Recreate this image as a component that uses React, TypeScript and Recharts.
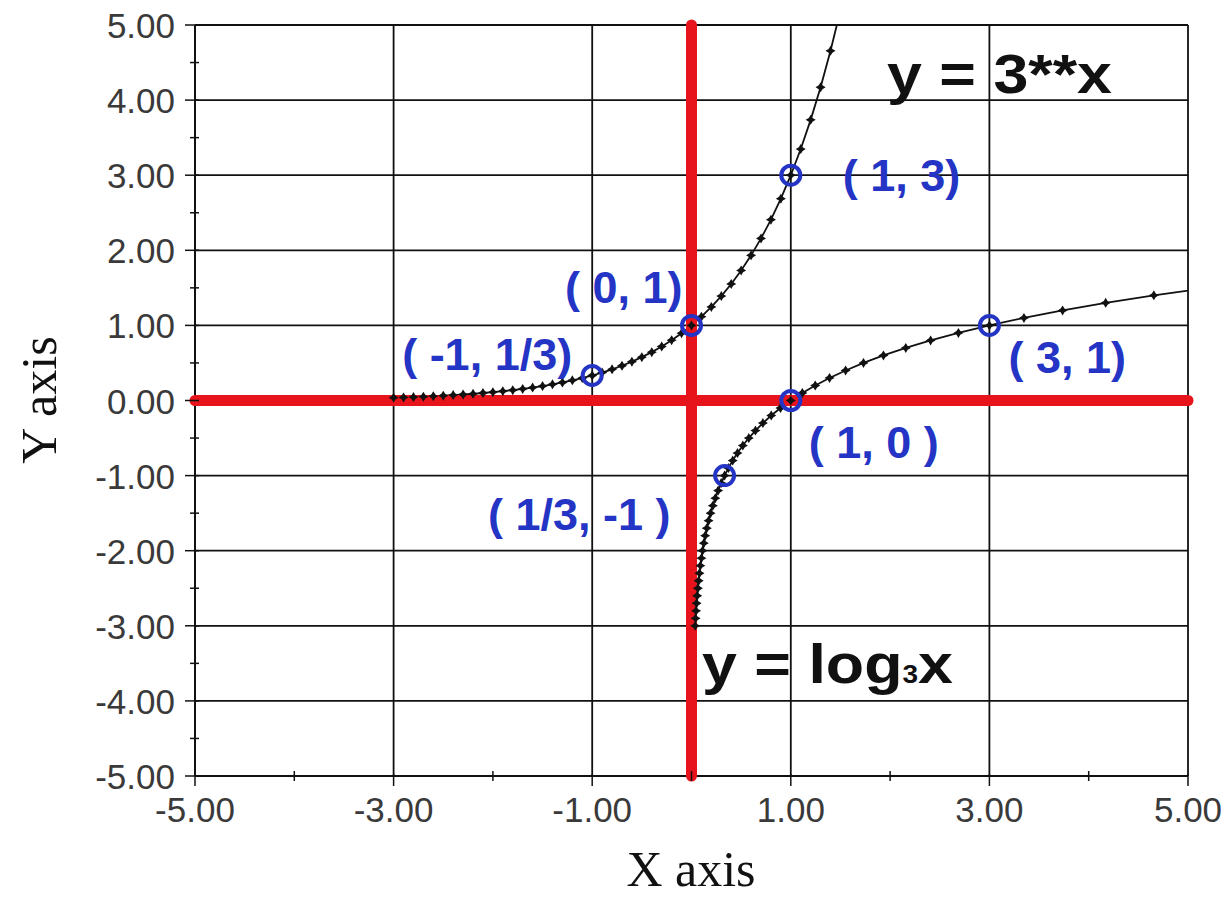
import React from "react";
import { ComposedChart, XAxis, YAxis, Line, Scatter, ReferenceLine } from "recharts";

const RED = "#e8141c";
const BLUE = "#2434c4";
const INK = "#111";

// samples of y = 3^x, x stepping by 0.1 from -3 to 1.5
const expX = [
  -3.0, -2.9, -2.8, -2.7, -2.6, -2.5, -2.4, -2.3, -2.2, -2.1,
  -2.0, -1.9, -1.8, -1.7, -1.6, -1.5, -1.4, -1.3, -1.2, -1.1,
  -1.0, -0.9, -0.8, -0.7, -0.6, -0.5, -0.4, -0.3, -0.2, -0.1,
  0.0, 0.1, 0.2, 0.3, 0.4, 0.5, 0.6, 0.7, 0.8, 0.9,
  1.0, 1.1, 1.2, 1.3, 1.4, 1.5,
];
const expY = [
  0.037, 0.041, 0.046, 0.051, 0.057, 0.064, 0.072, 0.08, 0.089, 0.1,
  0.111, 0.124, 0.138, 0.154, 0.172, 0.192, 0.215, 0.24, 0.268, 0.299,
  0.333, 0.372, 0.415, 0.463, 0.517, 0.577, 0.644, 0.719, 0.803, 0.896,
  1.0, 1.116, 1.246, 1.39, 1.552, 1.732, 1.933, 2.158, 2.408, 2.688,
  3.0, 3.348, 3.737, 4.171, 4.656, 5.196,
];

// marked points on both curves
const keyX = [-1, 0, 1, 0.333, 1, 3];
const keyY = [0.333, 1, 3, -1, 0, 1];
const keyLabels = ["( -1, 1/3)", "( 0, 1)", "( 1, 3)", "( 1/3, -1 )", "( 1, 0 )", "( 3, 1)"];

// where each label sits relative to its circle
const keyLabelPos = [
  { dx: -20, dy: -5, anchor: "end" },
  { dx: -9, dy: -22, anchor: "end" },
  { dx: 52, dy: 16, anchor: "start" },
  { dx: -54, dy: 54, anchor: "end" },
  { dx: 18, dy: 57, anchor: "start" },
  { dx: 19, dy: 48, anchor: "start" },
];

const xTicks = [-5, -4, -3, -2, -1, 0, 1, 2, 3, 4, 5];
const yTicks = [
  -5, -4.5, -4, -3.5, -3, -2.5, -2, -1.5, -1, -0.5, 0,
  0.5, 1, 1.5, 2, 2.5, 3, 3.5, 4, 4.5, 5,
];
const xGrid = [-3, -1, 1, 3, 5];
const yGrid = [-4, -3, -2, -1, 1, 2, 3, 4, 5];

const expData = expX.map((x, i) => ({ x, y: expY[i] }));
// the log curve is the same set of pairs with the axes swapped
const logData = expX.map((t, i) => ({ x: expY[i], y: t }));
const keyData = keyX.map((x, i) => ({ x, y: keyY[i], label: keyLabels[i], ...keyLabelPos[i] }));

const tickFont = { fontFamily: "'Liberation Sans', Arial, sans-serif", fontSize: 35, fill: "#3a3a3a" };

const XTick = ({ x, y, payload }: any) => {
  const v = payload.value;
  const major = Math.abs(v) % 2 === 1;
  return (
    <g>
      <line x1={x} x2={x} y1={y - (major ? 2 : 5)} y2={y + (major ? 10 : 5)} stroke={INK} strokeWidth={1.5} />
      {major && (
        <text x={x} y={y + 46} textAnchor="middle" {...tickFont}>
          {v.toFixed(2)}
        </text>
      )}
    </g>
  );
};

const YTick = ({ x, y, payload }: any) => {
  const v = payload.value;
  const major = Number.isInteger(v);
  return (
    <g>
      <line x1={x - (major ? 10 : 5)} x2={x + 4} y1={y} y2={y} stroke={INK} strokeWidth={1.5} />
      {major && (
        <text x={x - 20} y={y + 13} textAnchor="end" {...tickFont}>
          {v.toFixed(2)}
        </text>
      )}
    </g>
  );
};

const StarDot = (p: any) => {
  const { cx, cy, index } = p;
  if (cx == null || cy == null) return <g key={index} />;
  const a = 5;
  const b = 1.9;
  const d = `M${cx},${cy - a}L${cx + b},${cy - b}L${cx + a},${cy}L${cx + b},${cy + b}L${cx},${cy + a}L${cx - b},${cy + b}L${cx - a},${cy}L${cx - b},${cy - b}Z`;
  return <path key={index} d={d} fill={INK} />;
};

const KeyPoint = (p: any) => {
  const { cx, cy, payload } = p;
  return (
    <g>
      <circle cx={cx} cy={cy} r={9.5} fill="none" stroke={BLUE} strokeWidth={4} />
      <text
        x={cx + payload.dx}
        y={cy + payload.dy}
        textAnchor={payload.anchor}
        fontFamily="'Liberation Sans', Arial, sans-serif"
        fontWeight="bold"
        fontSize={45}
        fill={BLUE}
      >
        {payload.label}
      </text>
    </g>
  );
};

export default function App() {
  return (
    <div style={{ position: "absolute", left: 0, top: 0, width: 1230, height: 901, background: "#fff" }}>
      <ComposedChart width={1230} height={901} margin={{ top: 25, right: 42, bottom: 0, left: 0 }}>
        <XAxis
          dataKey="x"
          type="number"
          domain={[-5, 5]}
          allowDataOverflow
          ticks={xTicks}
          interval={0}
          height={125}
          tickSize={0}
          tickMargin={0}
          tickLine={false}
          tick={(p: any) => <XTick {...p} />}
          axisLine={{ stroke: INK, strokeWidth: 2 }}
        />
        <YAxis
          dataKey="y"
          type="number"
          domain={[-5, 5]}
          allowDataOverflow
          ticks={yTicks}
          interval={0}
          width={195}
          tickSize={0}
          tickMargin={0}
          tickLine={false}
          tick={(p: any) => <YTick {...p} />}
          axisLine={{ stroke: INK, strokeWidth: 2 }}
        />

        {xGrid.map((v) => (
          <ReferenceLine key={"gx" + v} x={v} stroke={INK} strokeWidth={1.8} zIndex={-50} />
        ))}
        {yGrid.map((v) => (
          <ReferenceLine key={"gy" + v} y={v} stroke={INK} strokeWidth={1.8} zIndex={-50} />
        ))}

        <Line
          data={expData}
          dataKey="y"
          type="linear"
          stroke={INK}
          strokeWidth={1.8}
          dot={(p: any) => <StarDot key={"e" + p.index} {...p} />}
          activeDot={false}
          isAnimationActive={false}
        />
        <Line
          data={logData}
          dataKey="y"
          type="linear"
          stroke={INK}
          strokeWidth={1.8}
          dot={(p: any) => <StarDot key={"l" + p.index} {...p} />}
          activeDot={false}
          isAnimationActive={false}
        />

        <ReferenceLine y={0} stroke={RED} strokeWidth={11} strokeLinecap="round" zIndex={550} />
        <ReferenceLine x={0} stroke={RED} strokeWidth={11} strokeLinecap="round" zIndex={550} />

        <Scatter data={keyData} dataKey="y" shape={(p: any) => <KeyPoint {...p} />} isAnimationActive={false} zIndex={700} />
      </ComposedChart>

      <svg
        width={1230}
        height={901}
        style={{ position: "absolute", left: 0, top: 0, pointerEvents: "none" }}
      >
        <text
          x={887}
          y={93}
          fontFamily="'Liberation Sans', Arial, sans-serif"
          fontWeight="bold"
          fontSize={56}
          fill={INK}
          textLength={225}
          lengthAdjust="spacingAndGlyphs"
        >
          y = 3**x
        </text>
        <text
          x={702}
          y={683}
          fontFamily="'Liberation Sans', Arial, sans-serif"
          fontWeight="bold"
          fontSize={56}
          fill={INK}
          textLength={251}
          lengthAdjust="spacingAndGlyphs"
        >
          y = log<tspan fontSize={25}>3</tspan>x
        </text>
        <text
          x={691}
          y={886}
          textAnchor="middle"
          fontFamily="'Liberation Serif', 'Times New Roman', serif"
          fontSize={50}
          fill={INK}
        >
          X axis
        </text>
        <text
          transform="translate(56,400) rotate(-90)"
          textAnchor="middle"
          fontFamily="'Liberation Serif', 'Times New Roman', serif"
          fontSize={50}
          fill={INK}
        >
          Y axis
        </text>
      </svg>
    </div>
  );
}
